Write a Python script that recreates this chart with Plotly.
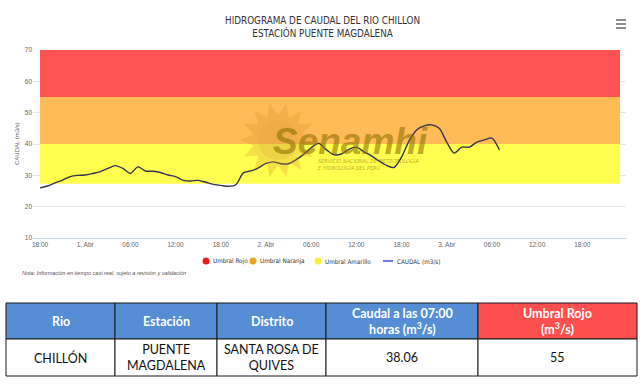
import math
import pandas as pd
import plotly.graph_objects as go

# ---------------- data ----------------
start_time = "2024-03-31 18:00"
caudal = [26.0, 26.6, 27.6, 28.5, 29.6, 30.0, 30.1, 30.6, 31.2, 32.2,
          33.1, 32.2, 30.6, 32.7, 31.4, 31.3, 30.9, 30.1, 29.6, 28.4,
          28.2, 28.4, 27.8, 27.1, 26.8, 26.5, 27.0, 30.8, 31.4, 32.4,
          33.8, 34.3, 33.7, 33.7, 35.0, 36.7, 38.8, 40.2, 38.2, 36.6,
          36.8, 38.3, 39.0, 37.5, 36.2, 34.6, 33.2, 32.5, 35.8, 41.0,
          44.5, 45.8, 46.1, 45.0, 40.6, 37.1, 39.0, 39.0, 40.6, 41.3,
          41.9, 38.06]
times = pd.date_range(start_time, periods=len(caudal), freq="h")

band_period = ["2024-03-31 18:00", "2024-04-03 23:00"]
umbral_names = ["Umbral Rojo", "Umbral Naranja", "Umbral Amarillo"]
umbral_low = [55, 40, 27.3]
umbral_high = [70, 55, 40]
umbral_colors = ["#ff5252", "#ffbb55", "#ffff50"]
legend_colors = ["#e81e1e", "#f2a41e", "#f5f03c"]

tick_times = pd.date_range("2024-03-31 18:00", periods=13, freq="6h")
tick_labels = ["18:00", "1. Abr", "06:00", "12:00", "18:00", "2. Abr", "06:00",
               "12:00", "18:00", "3. Abr", "06:00", "12:00", "18:00"]
y_ticks = [10, 20, 30, 40, 50, 60, 70]

table_header = ["Rio", "Estación", "Distrito",
                "Caudal a las 07:00<br>horas (m<sup>3</sup>/s)",
                "Umbral Rojo<br>(m<sup>3</sup>/s)"]
table_row = ["CHILLÓN", "PUENTE<br>MAGDALENA", "SANTA ROSA DE<br>QUIVES", "38.06", "55"]

# ---------------- layout helpers ----------------
W, H = 644, 386
PL, PR, PT, PB = 33, 626, 50, 238
SANS = "Liberation Sans, Arial, sans-serif"
COND = "DejaVu Sans Condensed, Liberation Sans, sans-serif"


def px(x):
    return (x - PL) / (PR - PL)


def py(y):
    return (PB - y) / (PB - PT)


fig = go.Figure()
fig.add_trace(go.Scatter(
    x=times, y=caudal, mode="lines", name="CAUDAL (m3/s)",
    line=dict(color="#34344f", width=1.4, shape="spline", smoothing=0.8),
    showlegend=False, hoverinfo="x+y"))

shapes = []
annotations = []

# threshold bands
for lo, hi, col in zip(umbral_low, umbral_high, umbral_colors):
    shapes.append(dict(type="rect", xref="x", yref="y", x0=band_period[0], x1=band_period[1],
                       y0=lo, y1=hi, fillcolor=col, line=dict(width=0), layer="between"))

# watermark sun
cx, cy, r_out, r_in = 278, 140, 38, 25
pts = []
n = 14
for i in range(2 * n):
    r = r_out if i % 2 == 0 else r_in
    a = math.pi * i / n
    pts.append((px(cx + r * math.cos(a)), py(cy + r * math.sin(a))))
path = "M " + " L ".join(f"{a:.4f},{b:.4f}" for a, b in pts) + " Z"
shapes.append(dict(type="path", xref="paper", yref="paper", path=path,
                   fillcolor="rgba(215,150,50,0.30)", line=dict(width=0), layer="above"))
shapes.append(dict(type="circle", xref="paper", yref="paper",
                   x0=px(cx - 20), x1=px(cx + 20), y0=py(cy + 20), y1=py(cy - 20),
                   fillcolor="rgba(215,160,60,0.20)", line=dict(width=0), layer="above"))
annotations.append(dict(x=px(271), y=py(141), xref="paper", yref="paper", xanchor="left",
                        yanchor="middle", showarrow=False,
                        text="<b><i>Senamhi</i></b>",
                        font=dict(family=SANS, size=37, color="rgba(140,110,0,0.58)")))
annotations.append(dict(x=px(316), y=py(163.5), xref="paper", yref="paper", xanchor="left",
                        yanchor="middle", showarrow=False, align="left",
                        text="<i>SERVICIO NACIONAL DE METEOROLOGÍA<br>E HIDROLOGÍA DEL PERÚ</i>",
                        font=dict(family=COND, size=5.5, color="rgba(140,110,0,0.6)")))

# titles
annotations.append(dict(x=px(322), y=py(27), xref="paper", yref="paper", xanchor="center",
                        yanchor="middle", showarrow=False,
                        text="HIDROGRAMA DE CAUDAL DEL RIO CHILLON<br>ESTACIÓN PUENTE MAGDALENA",
                        font=dict(family=COND, size=9.8, color="#333333")))
# menu icon
for yy in (20, 24, 28):
    shapes.append(dict(type="line", xref="paper", yref="paper", x0=px(616), x1=px(626),
                       y0=py(yy), y1=py(yy), line=dict(color="#666666", width=1.5)))

# y-axis title
annotations.append(dict(x=px(12), y=py(144), xref="paper", yref="paper", textangle=-90,
                        showarrow=False, text="CAUDAL (m3/s)",
                        font=dict(family=SANS, size=6, color="#666666")))

# manual legend
leg_x = [206, 253, 318]
leg_y = 261
for name, col, lx in zip(umbral_names, legend_colors, leg_x):
    shapes.append(dict(type="circle", xref="paper", yref="paper",
                       x0=px(lx - 3.5), x1=px(lx + 3.5), y0=py(leg_y + 3.5), y1=py(leg_y - 3.5),
                       fillcolor=col, line=dict(width=0)))
    annotations.append(dict(x=px(lx + 5), y=py(leg_y), xref="paper", yref="paper",
                            xanchor="left", yanchor="middle", showarrow=False, text=name,
                            font=dict(family=COND, size=6.3, color="#333333")))
shapes.append(dict(type="line", xref="paper", yref="paper", x0=px(383), x1=px(393),
                   y0=py(leg_y), y1=py(leg_y), line=dict(color="#4a4ad6", width=1.5)))
annotations.append(dict(x=px(395), y=py(leg_y), xref="paper", yref="paper",
                        xanchor="left", yanchor="middle", showarrow=False, text="CAUDAL (m3/s)",
                        font=dict(family=COND, size=6.3, color="#333333")))

# note
annotations.append(dict(x=px(20), y=py(273), xref="paper", yref="paper",
                        xanchor="left", yanchor="middle", showarrow=False,
                        text="<i>Nota: Información en tiempo casi real, sujeto a revisión y validación</i>",
                        font=dict(family=SANS, size=5.5, color="#555555")))

# table
col_edges = [6, 115, 217, 326, 478, 637]
row_edges = [303, 339, 376]
header_fills = ["#558ed5", "#558ed5", "#558ed5", "#558ed5", "#ff5050"]
for i in range(5):
    x0, x1 = col_edges[i], col_edges[i + 1]
    shapes.append(dict(type="rect", xref="paper", yref="paper",
                       x0=px(x0), x1=px(x1), y0=py(row_edges[1]), y1=py(row_edges[0]),
                       fillcolor=header_fills[i], line=dict(color="#1a1a1a", width=1)))
    shapes.append(dict(type="rect", xref="paper", yref="paper",
                       x0=px(x0), x1=px(x1), y0=py(row_edges[2]), y1=py(row_edges[1]),
                       fillcolor="white", line=dict(color="#1a1a1a", width=1)))
    xc = (x0 + x1) / 2
    annotations.append(dict(x=px(xc), y=py((row_edges[0] + row_edges[1]) / 2), xref="paper",
                            yref="paper", xanchor="center", yanchor="middle", showarrow=False,
                            text="<b>" + table_header[i] + "</b>",
                            font=dict(family="Lato, sans-serif", size=12.5, color="white")))
    annotations.append(dict(x=px(xc), y=py((row_edges[1] + row_edges[2]) / 2), xref="paper",
                            yref="paper", xanchor="center", yanchor="middle", showarrow=False,
                            text=table_row[i],
                            font=dict(family="Lato, sans-serif", size=12.5, color="#111111")))

fig.update_layout(
    width=W, height=H,
    margin=dict(l=PL, r=W - PR, t=PT, b=H - PB, pad=0),
    paper_bgcolor="white", plot_bgcolor="white",
    showlegend=False,
    shapes=shapes, annotations=annotations,
    xaxis=dict(type="date", range=["2024-03-31 17:04", "2024-04-03 23:48"],
               tickvals=tick_times, ticktext=tick_labels, showgrid=False,
               showline=True, linecolor="#ccd6eb", linewidth=1, ticks="",
               tickfont=dict(family=SANS, size=6.5, color="#666666"),
               zeroline=False, fixedrange=True),
    yaxis=dict(range=[10, 70], tickvals=y_ticks, showgrid=True, gridcolor="#e6e6e6",
               gridwidth=1, zeroline=False, showline=False, ticks="",
               tickfont=dict(family=SANS, size=6.5, color="#666666"),
               fixedrange=True),
)

fig.write_html("out.html", config={"displayModeBar": False},
               post_script="document.body.style.margin='0';document.body.style.overflow='hidden';")
